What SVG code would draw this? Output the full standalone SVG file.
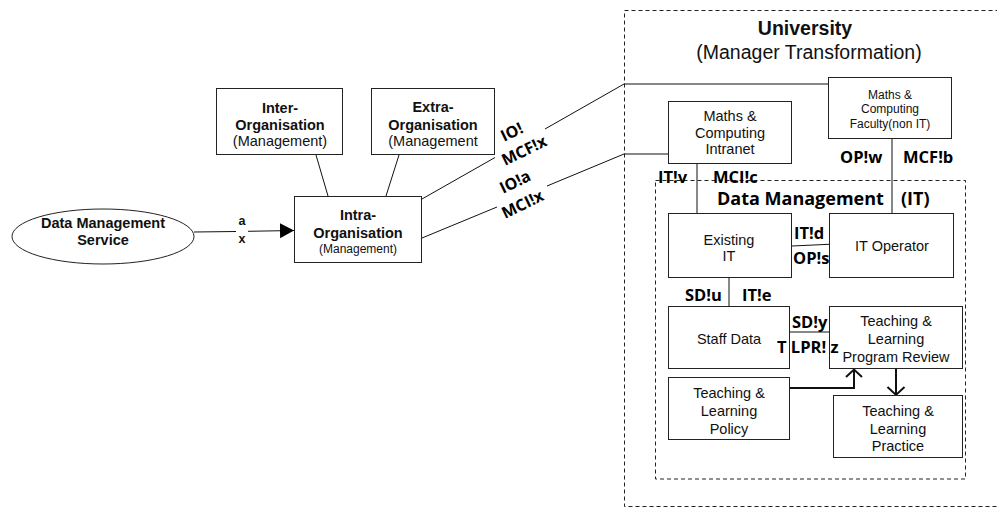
<svg xmlns="http://www.w3.org/2000/svg" width="997" height="507" viewBox="0 0 997 507">
<style>
.box{fill:#fff;stroke:#222;stroke-width:1}
.ln{fill:none;stroke:#111;stroke-width:1}
.thick{fill:none;stroke:#111;stroke-width:2}
.dash{fill:none;stroke:#222;stroke-width:1;stroke-dasharray:4 3}
.t{font-family:"Liberation Sans",Arial,sans-serif;font-size:14.5px;fill:#111;text-anchor:middle}
.tb{font-family:"Liberation Sans",Arial,sans-serif;font-size:14.5px;font-weight:bold;fill:#111;text-anchor:middle}
.ts{font-family:"Liberation Sans",Arial,sans-serif;font-size:12px;fill:#111;text-anchor:middle}
.lb{font-family:"Open Sans","Liberation Sans",sans-serif;font-size:16.5px;font-weight:bold;fill:#000}
.rl{font-family:"Open Sans","Liberation Sans",sans-serif;font-size:16px;font-weight:bold;fill:#000}
</style>
<defs>
<marker id="tri" markerWidth="14" markerHeight="15" refX="14" refY="7.5" orient="auto" markerUnits="userSpaceOnUse">
<path d="M0,0 L14,7.5 L0,15 Z" fill="#000"/>
</marker>
</defs>

<!-- containers -->
<g id="university">
<rect x="624.5" y="10.5" width="400" height="496" class="dash"/>
<text x="805" y="35" class="tb" style="font-size:19.5px">University</text>
<text x="809" y="59" class="t" style="font-size:19.5px">(Manager Transformation)</text>
</g>
<g id="data-management">
<rect x="655.5" y="180.5" width="310" height="298.5" class="dash"/>
<text x="717" y="205" class="lb" style="font-size:18px">Data Management</text>
<text x="901" y="205" class="lb" style="font-size:18px">(IT)</text>
</g>

<!-- connectors -->
<g id="connectors">
<line x1="194" y1="232" x2="236" y2="231.5" class="ln"/>
<line x1="248" y1="231.3" x2="294" y2="230.5" class="ln" marker-end="url(#tri)"/>
<line x1="316" y1="155" x2="328" y2="196" class="ln"/>
<line x1="399" y1="155" x2="386" y2="196" class="ln"/>
<polyline points="422,199 495,157.5" class="ln"/>
<polyline points="545,129 624,84 828,84" class="ln"/>
<polyline points="422,238 497,207" class="ln"/>
<polyline points="547,186 624,154 668,154" class="ln"/>
<line x1="697" y1="164" x2="697" y2="213" class="ln"/>
<line x1="892" y1="139" x2="892" y2="213" class="ln"/>
<line x1="792" y1="246" x2="829" y2="244.3" class="ln"/>
<line x1="729" y1="278" x2="729" y2="306" class="ln"/>
<line x1="790" y1="332" x2="829" y2="332" class="ln"/>
<polyline points="790,388 854,388 854,370" class="thick"/>
<polyline points="846,377 854,369.5 862,377" class="thick"/>
<line x1="896" y1="369" x2="896" y2="394" class="thick"/>
<polyline points="887.5,387 896,395 904.5,387" class="thick"/>
</g>

<!-- nodes -->
<g id="data-management-service">
<ellipse cx="103" cy="236.5" rx="91" ry="27.5" class="box"/>
<text x="103" y="228" class="tb">Data Management</text>
<text x="103" y="245" class="tb">Service</text>
</g>
<g id="inter-organisation">
<rect x="216.5" y="88.5" width="126" height="66" class="box"/>
<text x="280" y="113" class="tb">Inter-</text>
<text x="280" y="130" class="tb">Organisation</text>
<text x="280" y="146" class="t">(Management)</text>
</g>
<g id="extra-organisation">
<rect x="371.5" y="88.5" width="123" height="66" class="box"/>
<text x="433" y="112" class="tb">Extra-</text>
<text x="433" y="130" class="tb">Organisation</text>
<text x="433" y="146" class="t">(Management</text>
</g>
<g id="intra-organisation">
<rect x="294.5" y="196.5" width="127" height="66" class="box"/>
<text x="358" y="220" class="tb">Intra-</text>
<text x="358" y="238" class="tb">Organisation</text>
<text x="358" y="253" class="ts">(Management)</text>
</g>
<g id="faculty">
<rect x="828.5" y="77.5" width="123" height="61" class="box"/>
<text x="890" y="98.5" class="ts">Maths &amp;</text>
<text x="890" y="113" class="ts">Computing</text>
<text x="890" y="127.5" class="ts">Faculty(non IT)</text>
</g>
<g id="intranet">
<rect x="668.5" y="101.5" width="123" height="62" class="box"/>
<text x="730" y="121" class="t">Maths &amp;</text>
<text x="730" y="138" class="t">Computing</text>
<text x="730" y="154" class="t">Intranet</text>
</g>
<g id="existing-it">
<rect x="668.5" y="213.5" width="123" height="64" class="box"/>
<text x="729" y="244.5" class="t">Existing</text>
<text x="729" y="261" class="t">IT</text>
</g>
<g id="it-operator">
<rect x="829.5" y="213.5" width="124" height="64" class="box"/>
<text x="892" y="251" class="t">IT Operator</text>
</g>
<g id="staff-data">
<rect x="668.5" y="306.5" width="121" height="62" class="box"/>
<text x="729" y="344" class="t">Staff Data</text>
</g>
<g id="tl-program-review">
<rect x="829.5" y="306.5" width="133" height="62" class="box"/>
<text x="896" y="326" class="t">Teaching &amp;</text>
<text x="896" y="344" class="t">Learning</text>
<text x="896" y="362" class="t">Program Review</text>
</g>
<g id="tl-policy">
<rect x="668.5" y="377.5" width="121" height="62" class="box"/>
<text x="729" y="398" class="t">Teaching &amp;</text>
<text x="729" y="416" class="t">Learning</text>
<text x="729" y="433.5" class="t">Policy</text>
</g>
<g id="tl-practice">
<rect x="833.5" y="395.5" width="129" height="62" class="box"/>
<text x="898" y="416" class="t">Teaching &amp;</text>
<text x="898" y="434" class="t">Learning</text>
<text x="898" y="451" class="t">Practice</text>
</g>

<!-- labels -->
<g id="labels">
<text x="242" y="225" class="tb" style="font-size:12.5px">a</text>
<text x="242" y="243" class="tb" style="font-size:12.5px">x</text>
<text class="rl" transform="translate(504,142) rotate(-26)">IO!</text>
<text class="rl" transform="translate(505,166) rotate(-26)">MCF!x</text>
<text class="rl" transform="translate(503,194) rotate(-26)">IO!a</text>
<text class="rl" transform="translate(505,219) rotate(-26)">MCI!x</text>
<text x="658" y="183" class="lb">IT!v</text>
<text x="713" y="183" class="lb">MCI!c</text>
<text x="840" y="163" class="lb">OP!w</text>
<text x="903" y="163" class="lb">MCF!b</text>
<text x="794" y="239" class="lb">IT!d</text>
<text x="793" y="264" class="lb">OP!s</text>
<text x="685" y="301" class="lb">SD!u</text>
<text x="742" y="301" class="lb">IT!e</text>
<text x="792" y="328" class="lb">SD!y</text>
<text x="777" y="353" class="lb">T LPR! z</text>
</g>
</svg>
